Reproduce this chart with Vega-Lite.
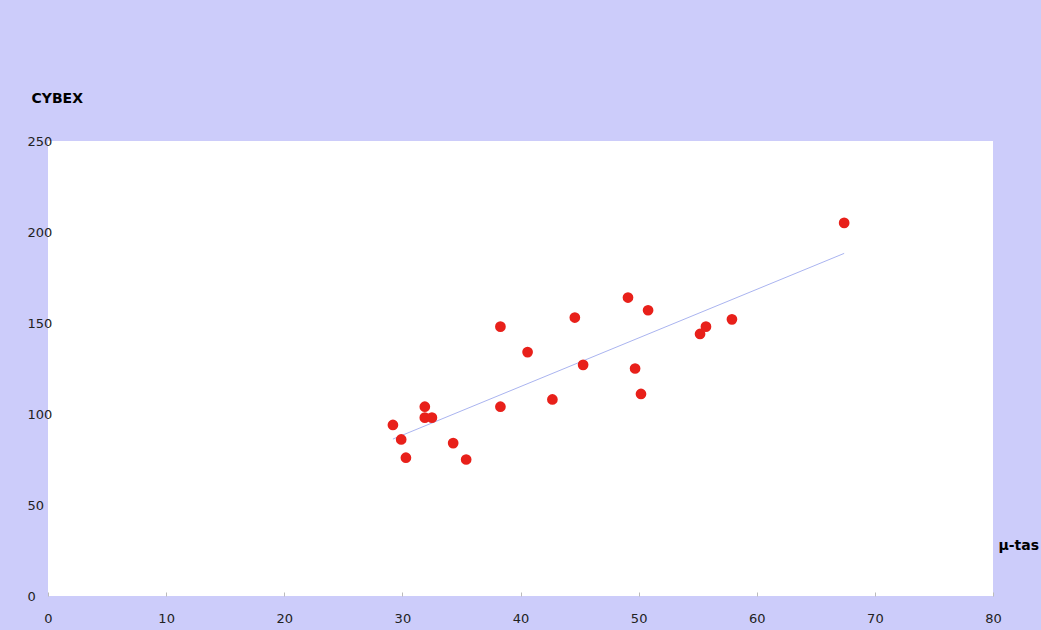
{
  "$schema": "https://vega.github.io/schema/vega-lite/v6.json",
  "width": 945,
  "height": 455,
  "autosize": {"type": "none"},
  "padding": {"left": 48, "top": 141, "right": 48, "bottom": 34},
  "background": "#ccccfa",
  "config": {
    "view": {"fill": "white", "stroke": null},
    "font": "DejaVu Sans"
  },
  "data": {
    "values": [
      {"mu": 29.2, "cybex": 94},
      {"mu": 29.9, "cybex": 86},
      {"mu": 30.3, "cybex": 76},
      {"mu": 31.9, "cybex": 104},
      {"mu": 31.9, "cybex": 98},
      {"mu": 32.5, "cybex": 98},
      {"mu": 34.3, "cybex": 84},
      {"mu": 35.4, "cybex": 75},
      {"mu": 38.3, "cybex": 148},
      {"mu": 38.3, "cybex": 104},
      {"mu": 40.6, "cybex": 134},
      {"mu": 42.7, "cybex": 108},
      {"mu": 44.6, "cybex": 153},
      {"mu": 45.3, "cybex": 127},
      {"mu": 49.1, "cybex": 164},
      {"mu": 49.7, "cybex": 125},
      {"mu": 50.2, "cybex": 111},
      {"mu": 50.8, "cybex": 157},
      {"mu": 55.2, "cybex": 144},
      {"mu": 55.7, "cybex": 148},
      {"mu": 57.9, "cybex": 152},
      {"mu": 67.4, "cybex": 205}
    ]
  },
  "encoding": {
    "x": {
      "field": "mu", "type": "quantitative",
      "scale": {"domain": [0, 80], "nice": false, "zero": false},
      "axis": {
        "values": [0, 10, 20, 30, 40, 50, 60, 70, 80],
        "grid": false, "domain": false,
        "tickSize": -4, "tickColor": "#bbbbbb",
        "labelFlush": false, "labelBound": false,
        "labelPadding": 20, "labelFontSize": 13, "labelColor": "#222222",
        "labelFont": "DejaVu Sans",
        "title": "μ-tas", "titleAngle": 0, "titleX": 950, "titleY": -51,
        "titleAlign": "left", "titleBaseline": "middle",
        "titleFontSize": 14, "titleFontWeight": "bold", "titleColor": "#000000"
      }
    },
    "y": {
      "field": "cybex", "type": "quantitative",
      "scale": {"domain": [0, 250], "nice": false, "zero": false},
      "axis": {
        "values": [0, 50, 100, 150, 200, 250],
        "grid": false, "domain": false, "ticks": false,
        "labelFlush": false, "labelBound": false,
        "labelAlign": "left", "labelPadding": 21, "labelBaseline": "middle",
        "labelFontSize": 13, "labelColor": "#222222",
        "title": "CYBEX", "titleAngle": 0, "titleX": -17, "titleY": -43,
        "titleAlign": "left", "titleBaseline": "middle",
        "titleFontSize": 14, "titleFontWeight": "bold", "titleColor": "#000000"
      }
    }
  },
  "layer": [
    {
      "transform": [{"regression": "cybex", "on": "mu", "method": "linear"}],
      "mark": {"type": "line", "color": "#aab4f0", "strokeWidth": 1}
    },
    {
      "mark": {"type": "circle", "color": "#e8201a", "opacity": 1, "size": 115}
    }
  ]
}
